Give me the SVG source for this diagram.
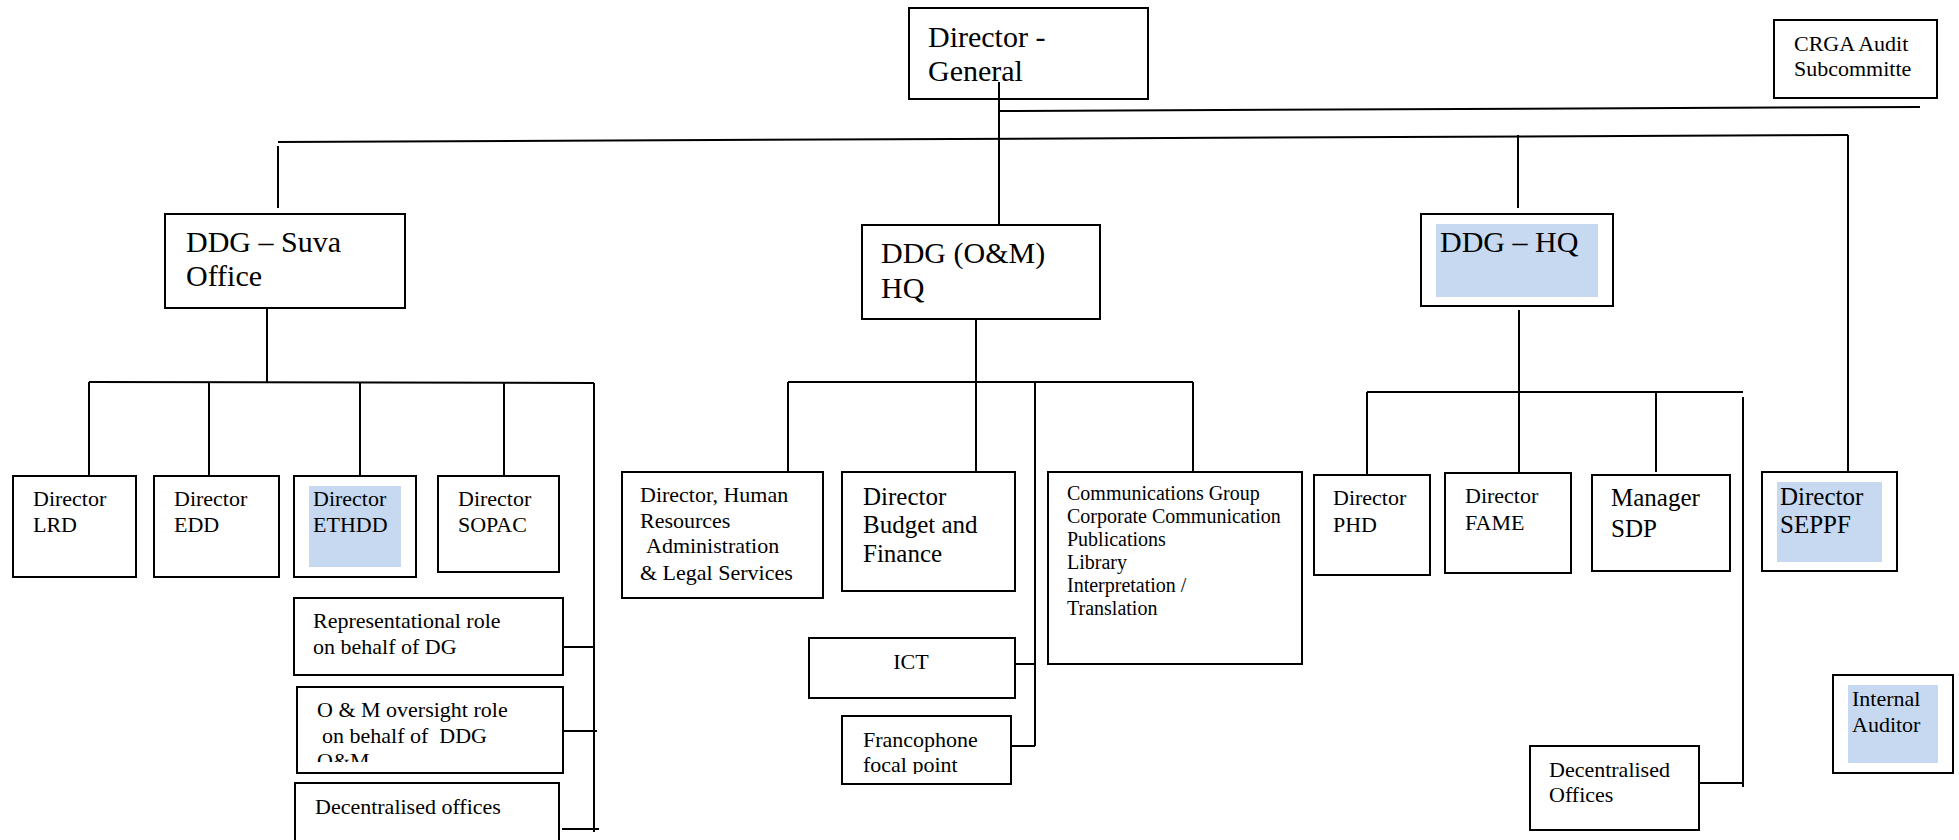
<svg xmlns="http://www.w3.org/2000/svg" width="1959" height="840" viewBox="0 0 1959 840">
<style>
.box{fill:#fff;stroke:#000;stroke-width:2}
.hl{fill:#C6D9F1;stroke:none}
.c{fill:none;stroke:#000;stroke-width:2}
text{font-family:"Liberation Serif","Times New Roman",serif;fill:#000}
.t30{font-size:30px}.t25{font-size:25px}.t22{font-size:22px}.t20{font-size:20px}
</style>
<defs>
<clipPath id="clipOM"><rect x="297" y="687" width="266" height="75"/></clipPath>
<clipPath id="clipFr"><rect x="842" y="716" width="169" height="58"/></clipPath>
</defs>
<rect width="1959" height="840" fill="#fff"/>
<g id="connectors">
<path class="c" d="M278 142 L1848 135"/>
<path class="c" d="M278 146 V208"/>
<path class="c" d="M999 111 L1920 107"/>
<path class="c" d="M1518 135 V208"/>
<path class="c" d="M1848 135 V476"/>
<path class="c" d="M267 308 V382"/>
<path class="c" d="M89 382 L594 383"/>
<path class="c" d="M89 382 V476 M209 382 V476 M360 382 V476 M504 383 V476 M594 383 V832"/>
<path class="c" d="M559 647 H594 M563 731 H597 M562 829 H599"/>
<path class="c" d="M976 319 V382 M788 382 H1193 M788 382 V472 M976 382 V472 M1035 382 V746 M1193 382 V472"/>
<path class="c" d="M1015 664 H1035 M1011 746 H1035"/>
<path class="c" d="M1519 310 V392 M1367 392 H1743 M1367 392 V475 M1519 392 V473 M1656 392 V472 M1743 397 V787 M1699 783 H1742"/>
</g>
<g id="dg"><rect class="box" x="909" y="8" width="239" height="91"/>
<text class="t30" x="928" y="47">Director -</text><text class="t30" x="928" y="81">General</text></g>
<path class="c" d="M999 82 V225"/>
<g id="crga"><rect class="box" x="1774" y="20" width="163" height="78"/>
<text class="t22" x="1794" y="51">CRGA Audit</text><text class="t22" x="1794" y="76">Subcommitte</text></g>
<g id="ddg-suva"><rect class="box" x="165" y="214" width="240" height="94"/>
<text class="t30" x="186" y="252">DDG – Suva</text><text class="t30" x="186" y="286">Office</text></g>
<g id="ddg-om"><rect class="box" x="862" y="225" width="238" height="94"/>
<text class="t30" x="881" y="263">DDG (O&amp;M)</text><text class="t30" x="881" y="298">HQ</text></g>
<g id="ddg-hq"><rect class="box" x="1421" y="214" width="192" height="92"/><rect class="hl" x="1436" y="224" width="162" height="73"/>
<text class="t30" x="1440" y="252">DDG – HQ</text></g>
<g id="lrd"><rect class="box" x="13" y="476" width="123" height="101"/>
<text class="t22" x="33" y="506">Director</text><text class="t22" x="33" y="532">LRD</text></g>
<g id="edd"><rect class="box" x="154" y="476" width="125" height="101"/>
<text class="t22" x="174" y="506">Director</text><text class="t22" x="174" y="532">EDD</text></g>
<g id="ethdd"><rect class="box" x="294" y="476" width="122" height="101"/><rect class="hl" x="309" y="486" width="92" height="81"/>
<text class="t22" x="313" y="506">Director</text><text class="t22" x="313" y="532">ETHDD</text></g>
<g id="sopac"><rect class="box" x="438" y="476" width="121" height="96"/>
<text class="t22" x="458" y="506">Director</text><text class="t22" x="458" y="532">SOPAC</text></g>
<g id="rep"><rect class="box" x="294" y="598" width="269" height="77"/>
<text class="t22" x="313" y="628">Representational role</text><text class="t22" x="313" y="654">on behalf of DG</text></g>
<g id="om-oversight"><rect class="box" x="297" y="687" width="266" height="86"/>
<g clip-path="url(#clipOM)"><text class="t22" x="317" y="717">O &amp; M oversight role</text><text class="t22" x="322" y="743" style="white-space:pre">on behalf of  DDG</text><text class="t22" x="317" y="768">O&amp;M</text></g></g>
<g id="dec-left"><rect class="box" x="295" y="783" width="264" height="70"/>
<text class="t22" x="315" y="814">Decentralised offices</text></g>
<g id="hr"><rect class="box" x="622" y="472" width="201" height="126"/>
<text class="t22" x="640" y="502">Director, Human</text><text class="t22" x="640" y="528">Resources</text><text class="t22" x="646" y="553">Administration</text><text class="t22" x="640" y="580">&amp; Legal Services</text></g>
<g id="budget"><rect class="box" x="842" y="472" width="173" height="119"/>
<text class="t25" x="863" y="505">Director</text><text class="t25" x="863" y="533">Budget and</text><text class="t25" x="863" y="562">Finance</text></g>
<g id="comms"><rect class="box" x="1048" y="472" width="254" height="192"/>
<text class="t20" x="1067" y="500">Communications Group</text><text class="t20" x="1067" y="523">Corporate Communication</text><text class="t20" x="1067" y="546">Publications</text><text class="t20" x="1067" y="569">Library</text><text class="t20" x="1067" y="592">Interpretation /</text><text class="t20" x="1067" y="615">Translation</text></g>
<g id="ict"><rect class="box" x="809" y="638" width="206" height="60"/>
<text class="t22" x="911" y="669" text-anchor="middle">ICT</text></g>
<g id="franco"><rect class="box" x="842" y="716" width="169" height="68"/>
<g clip-path="url(#clipFr)"><text class="t22" x="863" y="747">Francophone</text><text class="t22" x="863" y="772">focal point</text></g></g>
<g id="phd"><rect class="box" x="1314" y="475" width="116" height="100"/>
<text class="t22" x="1333" y="505">Director</text><text class="t22" x="1333" y="532">PHD</text></g>
<g id="fame"><rect class="box" x="1445" y="473" width="126" height="100"/>
<text class="t22" x="1465" y="503">Director</text><text class="t22" x="1465" y="530">FAME</text></g>
<g id="sdp"><rect class="box" x="1592" y="475" width="138" height="96"/>
<text class="t25" x="1611" y="506">Manager</text><text class="t25" x="1611" y="537">SDP</text></g>
<g id="seppf"><rect class="box" x="1762" y="472" width="135" height="99"/><rect class="hl" x="1777" y="482" width="105" height="80"/>
<text class="t25" x="1780" y="505">Director</text><text class="t25" x="1780" y="533">SEPPF</text></g>
<g id="dec-right"><rect class="box" x="1530" y="746" width="169" height="84"/>
<text class="t22" x="1549" y="777">Decentralised</text><text class="t22" x="1549" y="802">Offices</text></g>
<g id="auditor"><rect class="box" x="1833" y="675" width="120" height="98"/><rect class="hl" x="1848" y="685" width="90" height="78"/>
<text class="t22" x="1852" y="706">Internal</text><text class="t22" x="1852" y="732">Auditor</text></g>
</svg>
